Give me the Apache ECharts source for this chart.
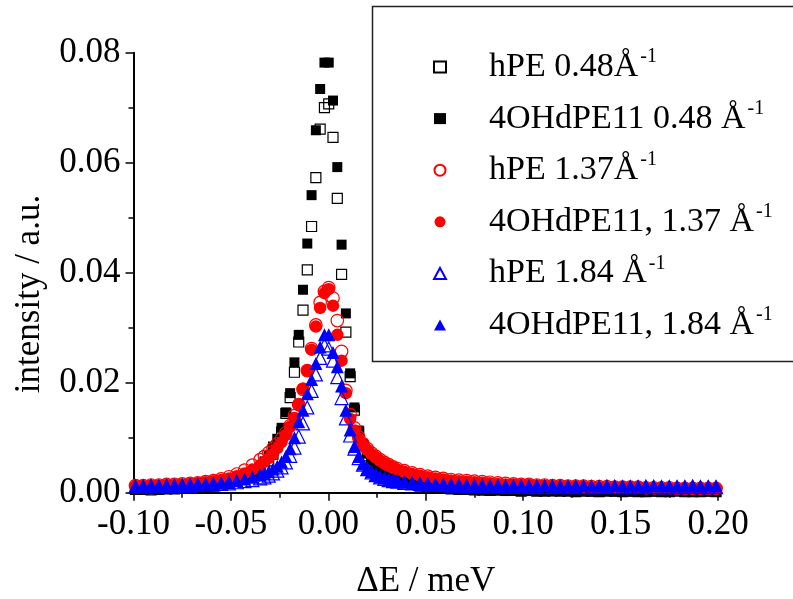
<!DOCTYPE html>
<html>
<head>
<meta charset="utf-8">
<script src="https://cdn.jsdelivr.net/npm/echarts@6/dist/echarts.min.js"></script>
<style>html,body{margin:0;padding:0;background:#fff;}#c{width:793px;height:599px;}</style>
</head>
<body>
<div id="c"></div>
<script>
// ---- data ----
var xTicks = [-0.10, -0.05, 0.00, 0.05, 0.10, 0.15, 0.20];
var yTicks = [0.00, 0.02, 0.04, 0.06, 0.08];

var energy = [
  // left tail
  -0.099, -0.095, -0.091, -0.087, -0.083, -0.079, -0.075, -0.071, -0.067, -0.063,
  -0.059, -0.055, -0.051, -0.047, -0.043, -0.039,
  // centre
  -0.0350, -0.0328, -0.0306, -0.0284, -0.0262, -0.0240, -0.0218, -0.0196, -0.0174, -0.0152,
  -0.0130, -0.0108, -0.0086, -0.0064, -0.0042, -0.0020, 0.0002, 0.0024, 0.0046, 0.0068,
  0.0090, 0.0112, 0.0134, 0.0156, 0.0178, 0.0200, 0.0222, 0.0244, 0.0266, 0.0288,
  0.0310, 0.0332, 0.0354,
  // right tail
  0.039, 0.043, 0.047, 0.051, 0.055, 0.059, 0.063, 0.067, 0.071, 0.075,
  0.079, 0.083, 0.087, 0.091, 0.095, 0.099, 0.103, 0.107, 0.111, 0.115,
  0.119, 0.123, 0.127, 0.131, 0.135, 0.139, 0.143, 0.147, 0.151, 0.155,
  0.159, 0.163, 0.167, 0.171, 0.175, 0.179, 0.183, 0.187, 0.191, 0.195,
  0.199
];

var hPE048 = [
  0.0006, 0.0006, 0.0005, 0.0006, 0.0007, 0.0007, 0.0008, 0.0009, 0.0010, 0.0011,
  0.0012, 0.0014, 0.0017, 0.0020, 0.0025, 0.0032,
  0.0040, 0.0048, 0.0058, 0.0070, 0.0086, 0.0110, 0.0144, 0.0173, 0.0219, 0.0274,
  0.0332, 0.0405, 0.0484, 0.0573, 0.0661, 0.0700, 0.0707, 0.0646, 0.0535, 0.0397,
  0.0292, 0.0211, 0.0150, 0.0110, 0.0085, 0.0067, 0.0055, 0.0046, 0.0039, 0.0033,
  0.0029, 0.0025, 0.0022,
  0.0018, 0.0015, 0.0012, 0.0010, 0.0009, 0.0008, 0.0007, 0.0006, 0.0006, 0.0005,
  0.0005, 0.0004, 0.0005, 0.0004, 0.0004, 0.0003, 0.0004, 0.0003, 0.0003, 0.0004,
  0.0003, 0.0003, 0.0002, 0.0003, 0.0003, 0.0002, 0.0003, 0.0003, 0.0002, 0.0003,
  0.0002, 0.0002, 0.0003, 0.0002, 0.0002, 0.0003, 0.0002, 0.0002, 0.0002, 0.0003,
  0.0002
];

var dPE048 = [
  0.0005, 0.0005, 0.0006, 0.0006, 0.0007, 0.0007, 0.0008, 0.0009, 0.0010, 0.0011,
  0.0013, 0.0016, 0.0019, 0.0024, 0.0030, 0.0037,
  0.0046, 0.0057, 0.0067, 0.0084, 0.0098, 0.0118, 0.0146, 0.0181, 0.0237, 0.0287,
  0.0369, 0.0453, 0.0541, 0.0659, 0.0734, 0.0782, 0.0782, 0.0713, 0.0592, 0.0451,
  0.0326, 0.0217, 0.0155, 0.0113, 0.0089, 0.0071, 0.0058, 0.0048, 0.0041, 0.0035,
  0.0030, 0.0026, 0.0023,
  0.0019, 0.0016, 0.0013, 0.0011, 0.0009, 0.0008, 0.0007, 0.0006, 0.0005, 0.0005,
  0.0004, 0.0004, 0.0004, 0.0003, 0.0004, 0.0003, 0.0003, 0.0003, 0.0003, 0.0002,
  0.0003, 0.0003, 0.0002, 0.0003, 0.0002, 0.0002, 0.0003, 0.0002, 0.0002, 0.0002,
  0.0003, 0.0002, 0.0002, 0.0002, 0.0002, 0.0003, 0.0002, 0.0002, 0.0002, 0.0002,
  0.0002
];

var hPE137 = [
  0.0013, 0.0013, 0.0014, 0.0014, 0.0015, 0.0015, 0.0016, 0.0017, 0.0018, 0.0020,
  0.0022, 0.0025, 0.0029, 0.0034, 0.0041, 0.0050,
  0.0060, 0.0066, 0.0073, 0.0081, 0.0089, 0.0098, 0.0109, 0.0122, 0.0140, 0.0160,
  0.0188, 0.0222, 0.0262, 0.0305, 0.0346, 0.0366, 0.0373, 0.0354, 0.0313, 0.0257,
  0.0186, 0.0142, 0.0118, 0.0101, 0.0089, 0.0080, 0.0072, 0.0066, 0.0060, 0.0055,
  0.0051, 0.0047, 0.0044,
  0.0040, 0.0036, 0.0033, 0.0030, 0.0028, 0.0026, 0.0024, 0.0023, 0.0022, 0.0021,
  0.0020, 0.0019, 0.0018, 0.0017, 0.0016, 0.0015, 0.0015, 0.0014, 0.0014, 0.0013,
  0.0013, 0.0012, 0.0012, 0.0012, 0.0011, 0.0011, 0.0011, 0.0010, 0.0010, 0.0010,
  0.0010, 0.0009, 0.0009, 0.0009, 0.0009, 0.0008, 0.0008, 0.0008, 0.0008, 0.0008,
  0.0008
];

var dPE137 = [
  0.0012, 0.0012, 0.0013, 0.0013, 0.0014, 0.0014, 0.0015, 0.0016, 0.0017, 0.0019,
  0.0021, 0.0023, 0.0026, 0.0030, 0.0035, 0.0042,
  0.0050, 0.0056, 0.0063, 0.0071, 0.0081, 0.0092, 0.0105, 0.0120, 0.0136, 0.0160,
  0.0189, 0.0222, 0.0260, 0.0302, 0.0336, 0.0363, 0.0370, 0.0340, 0.0287, 0.0240,
  0.0181, 0.0134, 0.0113, 0.0098, 0.0087, 0.0078, 0.0070, 0.0064, 0.0058, 0.0053,
  0.0049, 0.0045, 0.0042,
  0.0038, 0.0034, 0.0031, 0.0028, 0.0026, 0.0024, 0.0022, 0.0021, 0.0020, 0.0019,
  0.0018, 0.0017, 0.0016, 0.0015, 0.0015, 0.0014, 0.0014, 0.0013, 0.0013, 0.0012,
  0.0012, 0.0011, 0.0011, 0.0011, 0.0010, 0.0010, 0.0010, 0.0009, 0.0009, 0.0009,
  0.0009, 0.0008, 0.0008, 0.0008, 0.0008, 0.0007, 0.0007, 0.0007, 0.0007, 0.0007,
  0.0007
];

var hPE184 = [
  0.0011, 0.0011, 0.0012, 0.0011, 0.0012, 0.0012, 0.0013, 0.0013, 0.0014, 0.0014,
  0.0015, 0.0016, 0.0017, 0.0019, 0.0021, 0.0023,
  0.0026, 0.0028, 0.0031, 0.0035, 0.0040, 0.0046, 0.0055, 0.0067, 0.0082, 0.0102,
  0.0126, 0.0155, 0.0185, 0.0215, 0.0245, 0.0268, 0.0262, 0.0240, 0.0210, 0.0172,
  0.0135, 0.0104, 0.0080, 0.0063, 0.0051, 0.0043, 0.0037, 0.0032, 0.0028, 0.0025,
  0.0023, 0.0021, 0.0020,
  0.0018, 0.0017, 0.0016, 0.0015, 0.0014, 0.0014, 0.0013, 0.0013, 0.0012, 0.0012,
  0.0012, 0.0011, 0.0012, 0.0011, 0.0011, 0.0011, 0.0010, 0.0011, 0.0010, 0.0011,
  0.0010, 0.0010, 0.0011, 0.0010, 0.0010, 0.0010, 0.0011, 0.0010, 0.0010, 0.0010,
  0.0010, 0.0011, 0.0010, 0.0010, 0.0010, 0.0010, 0.0010, 0.0011, 0.0010, 0.0010,
  0.0010
];

var dPE184 = [
  0.0012, 0.0012, 0.0013, 0.0013, 0.0013, 0.0014, 0.0014, 0.0015, 0.0015, 0.0016,
  0.0017, 0.0018, 0.0020, 0.0022, 0.0025, 0.0028,
  0.0032, 0.0035, 0.0038, 0.0043, 0.0048, 0.0056, 0.0066, 0.0080, 0.0100, 0.0129,
  0.0150, 0.0180, 0.0206, 0.0235, 0.0265, 0.0287, 0.0287, 0.0255, 0.0229, 0.0194,
  0.0150, 0.0114, 0.0084, 0.0066, 0.0052, 0.0044, 0.0038, 0.0033, 0.0029, 0.0027,
  0.0025, 0.0023, 0.0022,
  0.0020, 0.0018, 0.0017, 0.0016, 0.0015, 0.0014, 0.0014, 0.0013, 0.0013, 0.0013,
  0.0012, 0.0013, 0.0012, 0.0012, 0.0013, 0.0012, 0.0012, 0.0012, 0.0013, 0.0012,
  0.0012, 0.0012, 0.0012, 0.0013, 0.0012, 0.0012, 0.0012, 0.0013, 0.0012, 0.0012,
  0.0012, 0.0012, 0.0013, 0.0012, 0.0012, 0.0012, 0.0012, 0.0013, 0.0012, 0.0012,
  0.0012
];

var seriesNames = ['hPE 0.48Å', '4OHdPE11 0.48 Å', 'hPE 1.37Å', '4OHdPE11, 1.37 Å', 'hPE 1.84 Å', '4OHdPE11, 1.84 Å'];

// ---- chart ----
function pairs(ys) {
  var out = [];
  for (var i = 0; i < energy.length && i < ys.length; i++) out.push([energy[i], ys[i]]);
  return out;
}
var FONT = 'Liberation Serif';
var chart = echarts.init(document.getElementById('c'), null, {renderer: 'canvas'});
var NONE = 'rgba(0,0,0,0)';

function sc(name, ys, symbol, size, fill, stroke) {
  return {
    name: name, type: 'scatter', data: pairs(ys), symbol: symbol, symbolSize: size,
    itemStyle: {color: fill, borderColor: stroke, borderWidth: fill === NONE ? 1.2 : 0, opacity: 1},
    emphasis: {disabled: true}, silent: true
  };
}

var option = {
  animation: false,
  backgroundColor: '#fff',
  grid: {left: 133.5, right: 75, top: 52.7, bottom: 106.3, containLabel: false, outerBoundsMode: 'none'},
  xAxis: {
    type: 'value', min: xTicks[0], max: xTicks[xTicks.length - 1], interval: 0.05,
    name: 'ΔE / meV', nameLocation: 'middle', nameGap: 72,
    nameTextStyle: {fontFamily: FONT, fontSize: 35, color: '#000'},
    axisLine: {onZero: false, lineStyle: {color: '#000', width: 2}},
    axisTick: {show: true, inside: false, length: 8, lineStyle: {color: '#000', width: 1.5}},
    minorTick: {show: true, splitNumber: 2, length: 5, lineStyle: {color: '#000', width: 1.5}},
    splitLine: {show: false},
    axisLabel: {fontFamily: FONT, fontSize: 35, color: '#000', margin: 15,
      formatter: function (v) { return Math.abs(v) < 1e-9 ? '0.00' : v.toFixed(2); }}
  },
  yAxis: {
    type: 'value', min: yTicks[0], max: yTicks[yTicks.length - 1], interval: 0.02,
    axisLine: {show: true, onZero: false, lineStyle: {color: '#000', width: 2}},
    axisTick: {show: true, inside: false, length: 8, lineStyle: {color: '#000', width: 1.5}},
    minorTick: {show: true, splitNumber: 2, length: 5, lineStyle: {color: '#000', width: 1.5}},
    splitLine: {show: false},
    axisLabel: {fontFamily: FONT, fontSize: 35, color: '#000', margin: 13,
      formatter: function (v) { return v.toFixed(2); }}
  },
  legend: {
    orient: 'vertical', left: 433, top: 47, padding: 0,
    itemWidth: 12, itemHeight: 11, itemGap: 14.6, selectedMode: false,
    symbolKeepAspect: true,
    data: seriesNames,
    formatter: function (n) { return '{m|' + n + '}{s|-1}'; },
    textStyle: {
      color: '#000', fontFamily: FONT,
      rich: {
        m: {fontFamily: FONT, fontSize: 34, lineHeight: 40, color: '#000', padding: [0, 0, 0, 38]},
        s: {fontFamily: FONT, fontSize: 20, lineHeight: 10, verticalAlign: 'top', color: '#000', padding: [0, 0, 0, 2]}
      }
    }
  },
  graphic: [
    {type: 'rect', shape: {x: 372.5, y: 6.5, width: 470, height: 355}, style: {fill: 'none', stroke: '#222', lineWidth: 1.5}, z: 0, silent: true},
    {type: 'text', x: 30, y: 294, rotation: Math.PI / 2, silent: true,
      style: {text: 'intensity / a.u.', font: '35px "Liberation Serif"', fill: '#000', align: 'center', verticalAlign: 'middle', textAlign: 'center', textVerticalAlign: 'middle'}}
  ],
  series: [
    sc(seriesNames[0], hPE048, 'rect', 10, NONE, '#000'),
    sc(seriesNames[1], dPE048, 'rect', 10, '#000', '#000'),
    sc(seriesNames[2], hPE137, 'circle', 12.5, NONE, '#ff0000'),
    sc(seriesNames[3], dPE137, 'circle', 12.5, '#ff0000', '#ff0000'),
    sc(seriesNames[4], hPE184, 'triangle', 13, NONE, '#0000ff'),
    sc(seriesNames[5], dPE184, 'triangle', 13, '#0000ff', '#0000ff')
  ]
};
chart.setOption(option);
</script>
</body>
</html>
